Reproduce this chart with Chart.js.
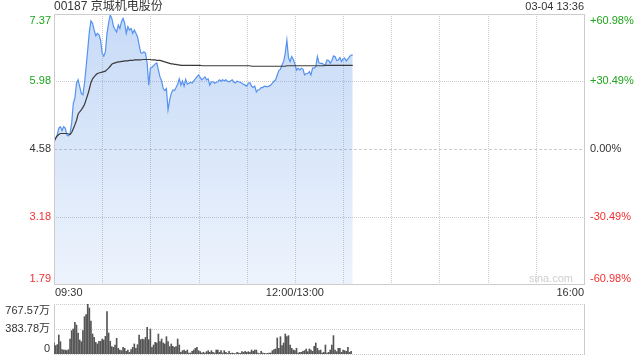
<!DOCTYPE html>
<html>
<head>
<meta charset="utf-8">
<script src="https://cdn.jsdelivr.net/npm/chart.js@4.4.0/dist/chart.umd.min.js"></script>
<style>
html, body { margin: 0; padding: 0; background: #fff; }
#wrap { position: relative; width: 640px; height: 360px; }
#priceChart { position: absolute; left: 0; top: 0; }
#volChart { position: absolute; left: 0; top: 300px; }
</style>
</head>
<body>
<div id="wrap">
  <canvas id="priceChart" width="640" height="300"></canvas>
  <canvas id="volChart" width="640" height="60"></canvas>
</div>
<script>
// ===== DATA =====
const stockTitle = '00187 京城机电股份';
const stampText = '03-04 13:36';
const prevClose = 4.58;

// minutes from 09:30 (lunch break collapsed, 0..330)
const xTickMinutes = [0, 150, 330];
const xTickLabels = ['09:30', '12:00/13:00', '16:00'];
const gridMinutes = [30, 60, 90, 120, 150, 180, 210, 240, 270, 300];

const priceTicks = [7.37, 5.98, 4.58, 3.18, 1.79];
const pctLabels = ['+60.98%', '+30.49%', '0.00%', '-30.49%', '-60.98%'];

const volTicks = [767.57, 383.78, 0];
const volLabels = ['767.57万', '383.78万', '0'];

// one value per minute
const price = [
    4.73, 4.80, 4.87, 5.01, 5.04, 4.96, 5.04, 5.01, 4.87, 4.85,
    4.90, 5.11, 5.52, 5.63, 5.94, 6.01, 5.87, 5.73, 5.70, 5.94,
    6.28, 6.63, 7.00, 7.23, 7.18, 7.04, 6.92, 6.97, 6.94, 6.83,
    6.56, 6.50, 6.59, 6.97, 7.18, 7.35, 7.28, 7.12, 7.05, 7.00,
    7.14, 7.07, 7.21, 7.28, 7.18, 6.97, 7.11, 7.04, 7.07, 6.97,
    7.04, 6.97, 6.90, 6.73, 6.57, 6.56, 6.59, 6.56, 6.35, 5.90,
    6.25, 6.27, 6.30, 6.34, 6.36, 6.21, 6.07, 5.99, 5.83, 5.79,
    5.83, 5.39, 5.59, 5.73, 5.80, 5.79, 5.85, 5.92, 6.03, 5.90,
    5.99, 5.88, 6.02, 5.92, 5.94, 5.96, 5.94, 5.99, 6.03, 6.07,
    6.11, 6.06, 6.01, 6.04, 6.07, 6.01, 6.03, 5.90, 5.97, 5.97,
    5.94, 5.96, 5.97, 6.01, 5.98, 6.01, 5.99, 6.01, 5.98, 5.97,
    5.99, 6.01, 5.96, 5.95, 5.98, 5.97, 5.96, 5.94, 5.92, 5.90,
    5.88, 5.94, 5.95, 5.88, 5.85, 5.88, 5.76, 5.80, 5.81, 5.85,
    5.85, 5.88, 5.87, 5.87, 5.88, 5.90, 5.94, 5.98, 6.01, 6.11,
    6.20, 6.23, 6.32, 6.39, 6.56, 6.83, 6.47, 6.39, 6.49, 6.43,
    6.34, 6.21, 6.25, 6.21, 6.25, 6.23, 6.11, 6.14, 6.14, 6.18,
    6.11, 6.25, 6.25, 6.28, 6.49, 6.36, 6.35, 6.35, 6.32, 6.32,
    6.42, 6.41, 6.35, 6.41, 6.50, 6.49, 6.41, 6.42, 6.47, 6.39,
    6.44, 6.46, 6.40, 6.44, 6.49, 6.52, 6.52
];

const avgPrice = [
    4.73, 4.80, 4.85, 4.88, 4.90, 4.90, 4.90, 4.90, 4.90, 4.89,
    4.88, 4.92, 5.00, 5.08, 5.17, 5.30, 5.35, 5.39, 5.44, 5.50,
    5.60, 5.70, 5.82, 5.95, 6.03, 6.07, 6.11, 6.14, 6.15, 6.16,
    6.17, 6.18, 6.19, 6.22, 6.25, 6.29, 6.33, 6.35, 6.36, 6.37,
    6.38, 6.38, 6.39, 6.39, 6.40, 6.40, 6.40, 6.41, 6.41, 6.41,
    6.42, 6.42, 6.42, 6.42, 6.42, 6.43, 6.43, 6.43, 6.43, 6.43,
    6.43, 6.42, 6.42, 6.42, 6.41, 6.41, 6.41, 6.40, 6.39, 6.38,
    6.37, 6.36, 6.35, 6.34, 6.34, 6.33, 6.33, 6.32, 6.32, 6.31,
    6.31, 6.31, 6.31, 6.31, 6.31, 6.31, 6.31, 6.31, 6.31, 6.31,
    6.31, 6.31, 6.30, 6.30, 6.30, 6.30, 6.30, 6.30, 6.30, 6.30,
    6.30, 6.30, 6.30, 6.30, 6.30, 6.30, 6.30, 6.30, 6.30, 6.30,
    6.30, 6.30, 6.30, 6.30, 6.30, 6.30, 6.30, 6.30, 6.30, 6.30,
    6.30, 6.30, 6.30, 6.29, 6.29, 6.29, 6.29, 6.29, 6.29, 6.29,
    6.29, 6.29, 6.29, 6.29, 6.29, 6.29, 6.29, 6.29, 6.29, 6.29,
    6.29, 6.29, 6.29, 6.29, 6.29, 6.30, 6.30, 6.30, 6.30, 6.30,
    6.30, 6.30, 6.30, 6.30, 6.30, 6.30, 6.30, 6.30, 6.30, 6.30,
    6.30, 6.30, 6.30, 6.30, 6.30, 6.30, 6.30, 6.30, 6.30, 6.31,
    6.31, 6.31, 6.31, 6.31, 6.31, 6.31, 6.31, 6.31, 6.31, 6.31,
    6.31, 6.31, 6.31, 6.31, 6.31, 6.31, 6.31
];

// volume in 万 shares, one bar per minute
const volume = [
    169, 128, 143, 292, 189, 67, 61, 61, 51, 67,
    230, 358, 384, 486, 445, 322, 215, 189, 358, 573,
    604, 768, 706, 507, 307, 256, 179, 154, 195, 195,
    230, 215, 271, 650, 322, 195, 113, 102, 138, 241,
    87, 61, 51, 102, 87, 41, 61, 26, 67, 102,
    154, 87, 143, 292, 220, 230, 220, 256, 410, 220,
    384, 102, 138,
    179, 169, 307, 189, 230, 169, 154, 266, 189, 113,
    154, 118, 102, 113, 230, 138, 26, 51, 61, 41,
    61, 15, 15, 41, 61, 87, 102, 51, 36, 15,
    26, 15, 36, 51, 26, 51, 26, 15, 61, 61,
    26, 51, 15, 51, 26, 10, 41, 10, 15, 10,
    5, 26, 15, 10, 36, 26, 41, 26, 36, 26,
    61, 41, 61,
    61, 15, 5, 41, 15, 10, 5, 10, 15, 15,
    51, 67, 77, 246, 87, 266, 128, 169, 307, 266,
    282, 138, 87, 61, 51, 87, 15, 26, 26, 41,
    51, 77, 36, 77, 61, 41, 118, 169, 87, 51,
    61, 15, 26, 138, 15, 26, 61, 138, 282, 61,
    36, 87, 87, 26, 61, 51, 41, 102, 26, 41
];

// ===== STYLE =====
const FONT = 'Arial, "Liberation Sans", "Noto Sans CJK SC", sans-serif';
const UP = '#1ca51c';
const DOWN = '#f23030';
const TEXT = '#333333';
const FRAME = '#cccccc';
const DOTS = [1, 1];

function levelColor(v) {
    if (Math.abs(v - prevClose) < 0.005) return TEXT;
    return v > prevClose ? UP : DOWN;
}

function crisp(v) {
    return Math.round(v) + 0.5;
}

function hLine(ctx, x1, x2, y, dash, color) {
    ctx.save();
    ctx.strokeStyle = color;
    ctx.lineWidth = 1;
    ctx.setLineDash(dash);
    ctx.beginPath();
    ctx.moveTo(x1, crisp(y));
    ctx.lineTo(x2, crisp(y));
    ctx.stroke();
    ctx.restore();
}

function vLine(ctx, x, y1, y2, dash, color) {
    ctx.save();
    ctx.strokeStyle = color;
    ctx.lineWidth = 1;
    ctx.setLineDash(dash);
    ctx.beginPath();
    ctx.moveTo(crisp(x), y1);
    ctx.lineTo(crisp(x), y2);
    ctx.stroke();
    ctx.restore();
}

// ===== PRICE PANEL =====
const priceFrame = {
    id: 'priceFrame',
    beforeDatasetsDraw(chart) {
        const ctx = chart.ctx;
        const a = chart.chartArea;
        const xs = chart.scales.x;
        const ys = chart.scales.y;

        gridMinutes.forEach(m => {
            vLine(ctx, xs.getPixelForValue(m), a.top, a.bottom, DOTS, FRAME);
        });
        priceTicks.forEach((v, i) => {
            if (i === 0 || i === priceTicks.length - 1) return;
            const dash = Math.abs(v - prevClose) < 0.005 ? [3, 2] : DOTS;
            hLine(ctx, a.left, a.right, ys.getPixelForValue(v), dash, FRAME);
        });
    },
    afterDatasetsDraw(chart) {
        const ctx = chart.ctx;
        const a = chart.chartArea;
        const xs = chart.scales.x;
        const ys = chart.scales.y;

        // frame
        ctx.save();
        ctx.strokeStyle = FRAME;
        ctx.lineWidth = 1;
        ctx.strokeRect(crisp(a.left), crisp(a.top), Math.round(a.right - a.left), Math.round(a.bottom - a.top));
        ctx.restore();

        ctx.save();
        ctx.font = '11px ' + FONT;

        // watermark
        ctx.fillStyle = '#cfcfcf';
        ctx.textAlign = 'right';
        ctx.textBaseline = 'middle';
        ctx.fillText('sina.com', a.right - 11, a.bottom - 5);

        // price + percent labels
        priceTicks.forEach((v, i) => {
            const y = ys.getPixelForValue(v);
            let base = 'middle';
            if (i === 0) base = 'top';
            if (i === priceTicks.length - 1) base = 'bottom';
            ctx.textBaseline = base;
            ctx.fillStyle = levelColor(v);
            ctx.textAlign = 'right';
            ctx.fillText(v.toFixed(2), a.left - 3, y + (i === 0 ? 1 : 0));
            ctx.textAlign = 'left';
            ctx.fillText(pctLabels[i], a.right + 6, y + (i === 0 ? 1 : 0));
        });

        // time labels
        ctx.fillStyle = TEXT;
        ctx.textBaseline = 'middle';
        xTickMinutes.forEach((m, i) => {
            const x = xs.getPixelForValue(m);
            if (i === 0) ctx.textAlign = 'left';
            else if (i === xTickMinutes.length - 1) ctx.textAlign = 'right';
            else ctx.textAlign = 'center';
            ctx.fillText(xTickLabels[i], x + (i === 0 ? 1 : 0), a.bottom + 9);
        });

        // header
        ctx.textAlign = 'right';
        ctx.fillText(stampText, a.right, 7);
        ctx.textAlign = 'left';
        ctx.font = '12px ' + FONT;
        ctx.fillText(stockTitle, a.left, 7);
        ctx.restore();
    }
};

new Chart(document.getElementById('priceChart'), {
    type: 'line',
    data: {
        datasets: [
            {
                data: avgPrice.map((v, i) => ({ x: i, y: v })),
                borderColor: '#3a3a3a',
                borderWidth: 1.2,
                pointRadius: 0,
                fill: false,
                tension: 0
            },
            {
                data: price.map((v, i) => ({ x: i, y: v })),
                borderColor: '#5592ef',
                borderWidth: 1.2,
                pointRadius: 0,
                tension: 0,
                fill: 'start',
                backgroundColor: function(c) {
                    const a = c.chart.chartArea;
                    if (!a) return 'rgba(80,140,230,0.2)';
                    const g = c.chart.ctx.createLinearGradient(0, a.top, 0, a.bottom);
                    g.addColorStop(0, 'rgba(80,140,230,0.32)');
                    g.addColorStop(1, 'rgba(80,140,230,0.10)');
                    return g;
                }
            }
        ]
    },
    options: {
        responsive: false,
        animation: false,
        events: [],
        layout: { padding: { left: 54, right: 56, top: 14, bottom: 16 } },
        scales: {
            x: { type: 'linear', display: false, min: 0, max: 330 },
            y: { display: false, min: priceTicks[priceTicks.length - 1], max: priceTicks[0] }
        },
        plugins: {
            legend: { display: false },
            tooltip: { enabled: false }
        }
    },
    plugins: [priceFrame]
});

// ===== VOLUME PANEL =====
const volFrame = {
    id: 'volFrame',
    beforeDatasetsDraw(chart) {
        const ctx = chart.ctx;
        const a = chart.chartArea;
        const ys = chart.scales.y;
        volTicks.forEach(v => {
            hLine(ctx, a.left, a.right, ys.getPixelForValue(v), DOTS, FRAME);
        });
        vLine(ctx, a.left, a.top, a.bottom + 1, [], FRAME);
        vLine(ctx, a.right, a.top, a.bottom + 1, [], FRAME);
    },
    afterDraw(chart) {
        const ctx = chart.ctx;
        const a = chart.chartArea;
        const ys = chart.scales.y;
        ctx.save();
        ctx.font = '11px ' + FONT;
        ctx.fillStyle = TEXT;
        ctx.textAlign = 'right';
        volTicks.forEach((v, i) => {
            let base = 'middle';
            if (i === 0) base = 'top';
            if (i === volTicks.length - 1) base = 'bottom';
            ctx.textBaseline = base;
            ctx.fillText(volLabels[i], a.left - 4, ys.getPixelForValue(v) + (i === 0 ? 1 : 0));
        });
        ctx.restore();
    }
};

new Chart(document.getElementById('volChart'), {
    type: 'bar',
    data: {
        datasets: [{
            data: volume.map((v, i) => ({ x: i, y: v })),
            backgroundColor: '#555555',
            barThickness: 1,
            grouped: false
        }]
    },
    options: {
        responsive: false,
        animation: false,
        events: [],
        layout: { padding: { left: 54, right: 56, top: 4, bottom: 6 } },
        scales: {
            x: { type: 'linear', display: false, min: 0, max: 330, offset: false },
            y: { display: false, min: 0, max: volTicks[0] }
        },
        plugins: {
            legend: { display: false },
            tooltip: { enabled: false }
        }
    },
    plugins: [volFrame]
});
</script>
</body>
</html>
